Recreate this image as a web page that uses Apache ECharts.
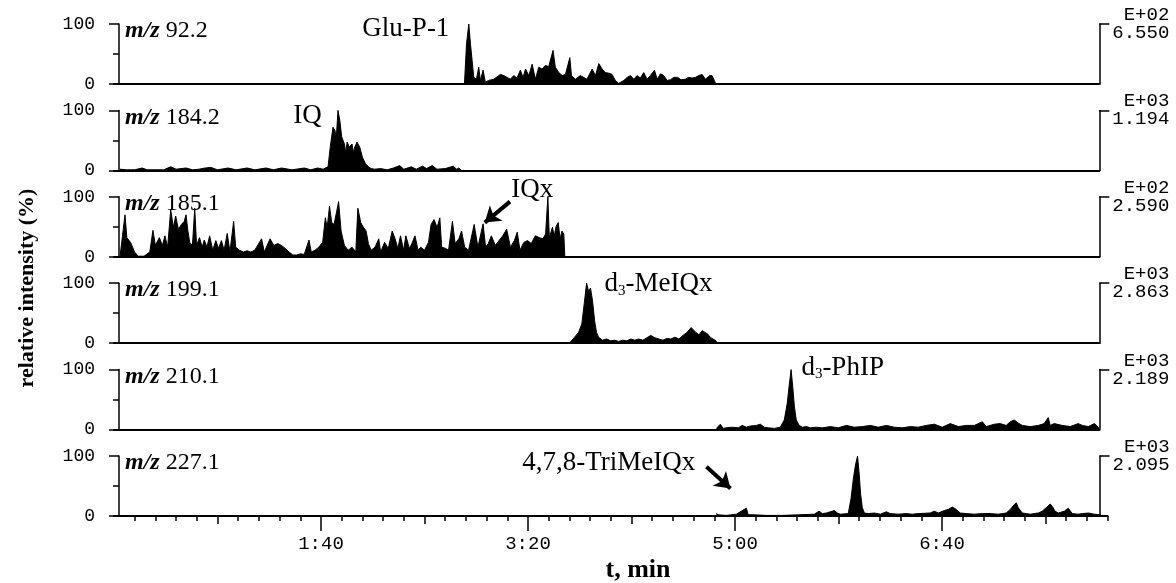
<!DOCTYPE html>
<html lang="en">
<head>
    <meta charset="UTF-8">
    <title>SIM chromatograms</title>
    <script src="https://cdn.jsdelivr.net/npm/echarts@6/dist/echarts.min.js"></script>
    <style>html, body { margin: 0; padding: 0; background: #fff; }</style>
</head>
<body>
    <div id="main" style="width: 1176px; height: 583px"></div>
    <script>
        // panel captions and full-scale values shown on the right
        var mzLabels = ['92.2', '184.2', '185.1', '199.1', '210.1', '227.1'];
        var scaleExp = ['E+02', 'E+03', 'E+02', 'E+03', 'E+03', 'E+03'];
        var scaleMax = ['6.550', '1.194', '2.590', '2.863', '2.189', '2.095'];

        // traces: [time (s), relative intensity (%)]
        var mz92 = [[169.3,0],[170.3,67],[171.4,100],[172.2,67],[173.0,39],[173.8,11],[175.1,8],[176.2,28],[177.0,6],[178.3,23],[179.4,3],[181.0,6],[183.5,8],[185.1,12],[186.7,16],[188.3,14],[189.9,11],[191.5,8],[193.1,14],[194.7,10],[196.3,23],[197.6,11],[198.8,25],[200.4,14],[202.0,33],[203.6,8],[205.2,28],[206.8,25],[208.4,31],[210.0,29],[212.1,56],[213.2,28],[214.9,19],[216.5,14],[218.1,16],[220.2,44],[221.0,14],[222.9,8],[225.3,14],[228.5,8],[231.0,25],[232.6,14],[234.2,34],[235.8,25],[237.4,19],[239.0,18],[240.6,16],[242.2,6],[243.8,1],[246.3,6],[247.9,11],[249.5,14],[251.1,8],[252.7,14],[254.3,10],[255.9,19],[257.5,8],[259.1,14],[261.1,23],[262.4,8],[264.0,17],[265.6,14],[267.2,6],[268.8,7],[270.4,11],[272.3,11],[273.9,7],[276.0,8],[277.6,11],[279.3,10],[280.9,11],[282.5,14],[284.1,16],[285.7,8],[287.8,14],[288.9,14],[290.0,6],[290.7,0]];
        var mz184 = [[2.9,2],[6,1],[10,1],[13.6,4],[16,1],[20,1],[24,1],[27.4,6],[30,2],[34.8,4],[38,1],[41,2],[44.0,4],[46.8,5],[50,1],[55.1,4],[59,1],[64.3,4],[68,1],[73.5,4],[77,1],[80.9,4],[86,1],[92.0,4],[95,1],[98.4,4],[101,2],[103.4,6],[104.5,40],[105.8,72],[106.7,67],[107.4,55],[108.2,100],[109.1,83],[110.0,56],[111.3,44],[112.0,30],[112.6,47],[113.7,39],[115.0,44],[115.6,30],[116.3,39],[117.4,47],[118.7,39],[120.0,22],[121.5,11],[123.0,6],[124.2,3],[126,2],[128.8,3],[132,1],[135,4],[138.0,8],[140,2],[143.6,6],[146,2],[149.1,7],[151,3],[153.7,8],[156,2],[160,3],[163.9,7],[165.5,2],[166.6,4],[167.9,0]];
        var mz185 = [[2.9,0],[5.3,70],[6.2,32],[7.1,30],[8.0,24],[9.0,16],[9.9,8],[11.7,1],[14.5,1],[17.3,8],[18.8,44],[20.0,19],[21.9,32],[23.4,19],[24.6,35],[25.9,16],[27.4,78],[28.7,49],[29.8,68],[31.1,46],[32.6,54],[33.9,59],[34.8,70],[35.7,43],[36.6,24],[37.9,19],[39.0,81],[39.9,19],[41.3,32],[42.6,16],[43.6,28],[44.9,16],[46.2,35],[47.7,11],[49.2,27],[50.5,14],[51.9,27],[53.2,11],[54.7,39],[56.0,8],[57.8,59],[58.8,16],[60.6,11],[62.5,8],[64.3,10],[66.1,8],[68.0,11],[71.3,30],[72.6,8],[75.4,30],[77.2,19],[79.1,22],[80.9,19],[82.7,14],[84.6,8],[86.4,3],[88.3,3],[90.1,5],[91.9,4],[94.2,28],[95.3,8],[97.1,11],[98.9,16],[100.8,24],[102.1,65],[103.0,49],[104.1,84],[105.2,57],[106.3,54],[107.6,76],[108.5,92],[109.7,43],[111.3,19],[113.1,11],[115.0,16],[116.8,8],[117.8,81],[119.2,57],[120.5,49],[121.8,43],[122.9,22],[124.2,11],[126.1,16],[127.9,30],[128.8,8],[130.7,24],[132.5,14],[134.4,43],[135.8,30],[137.1,14],[138.4,35],[139.9,11],[141.0,35],[142.7,14],[143.9,22],[145.4,35],[146.9,11],[148.2,16],[150.0,11],[151.9,24],[153.2,54],[154.6,62],[156.1,49],[157.4,65],[158.3,16],[160.2,14],[161.6,11],[163.5,59],[164.8,22],[166.6,30],[167.9,43],[169.4,16],[171.3,11],[174.0,54],[175.8,16],[178.3,55],[179.5,16],[180.8,22],[182.3,35],[184.2,19],[186.0,27],[187.8,35],[189.7,46],[191.5,16],[193.4,27],[194.8,41],[196.1,11],[198.0,24],[199.8,27],[201.6,22],[203.5,35],[205.4,32],[206.3,35],[207.2,30],[208.5,38],[209.6,100],[210.3,32],[211.8,49],[212.7,35],[213.6,51],[214.6,57],[215.5,30],[216.4,43],[217.3,38],[217.8,0]];
        var mz199 = [[220.5,2],[222.5,10],[224.4,18],[226.0,32],[227.3,70],[228.3,100],[229.3,86],[230.2,92],[231.2,70],[232.2,37],[233.1,18],[234.1,10],[236.0,5],[238.0,7],[239.9,4],[241.9,5],[243.8,3],[245.7,5],[247.7,4],[249.6,7],[251.6,5],[253.5,7],[255.5,5],[257.4,9],[259.3,13],[261.3,9],[263.2,7],[265.2,5],[267.1,8],[269.0,7],[271.0,10],[272.9,7],[274.9,13],[276.8,18],[278.8,26],[279.7,29],[281.1,18],[282.6,14],[284.2,21],[285.5,18],[286.9,15],[288.0,10],[289.4,7],[290.8,4],[291.4,0]];
        var mz210 = [[291.0,2],[292.9,9],[294.3,2],[295.8,3],[298.7,4],[301.6,3],[303.5,7],[305.5,4],[307.4,6],[310.3,7],[312.2,9],[314.2,4],[316.1,3],[319.0,2],[321.9,4],[323.8,16],[325.2,43],[326.1,71],[327.1,100],[327.9,71],[328.7,38],[329.6,16],[331.0,7],[332.5,4],[334.5,5],[336.4,3],[339.3,4],[342.2,3],[346.0,5],[349.9,3],[353.8,7],[357.6,4],[361.5,5],[365.4,7],[369.2,4],[373.1,7],[377.0,4],[380.8,3],[384.7,5],[388.5,4],[392.4,7],[396.3,9],[400.1,4],[404.0,10],[407.9,5],[411.7,7],[415.6,7],[419.5,13],[421.4,5],[425.3,9],[428.1,10],[431.0,7],[433.0,13],[434.9,16],[436.8,11],[438.8,7],[442.6,5],[446.5,7],[449.4,10],[451.3,20],[452.3,7],[454.2,10],[458.1,7],[461.9,5],[465.8,10],[467.8,7],[470.7,5],[473.6,10],[475.5,4],[476,0]];
        var mz227 = [[291.0,4],[292.0,2],[295.8,1],[300.6,3],[305.5,13],[306.4,2],[309.3,2],[315.1,1],[322.9,1],[330.6,2],[338.3,3],[340.6,8],[342.2,4],[344.1,5],[346.0,7],[348.0,9],[349.5,5],[350.9,3],[354.7,4],[356.1,30],[357.2,63],[358.2,85],[359.2,100],[359.9,74],[360.7,36],[361.5,14],[362.5,5],[364.4,4],[367.3,5],[370.2,3],[373.1,7],[375.0,4],[378.9,3],[382.7,4],[385.6,3],[388.5,4],[394.3,5],[396.3,8],[398.2,5],[401.1,9],[403.0,11],[405.0,15],[406.9,11],[408.8,5],[411.7,4],[415.6,3],[419.5,4],[423.3,4],[427.2,3],[431.0,5],[433.0,11],[434.9,19],[435.9,22],[436.8,14],[438.8,5],[442.6,3],[446.5,5],[448.4,8],[450.4,14],[452.3,20],[453.3,16],[454.6,8],[456.2,5],[459.1,8],[461.0,13],[462.9,4],[465.8,3],[467.8,4],[470.7,5],[473.6,3],[476.5,2],[477.4,0]];

        // compound names placed at [time, intensity] of their panel
        var peakLabels = [
            {panel: 0, t: 141, v: 92, text: 'Glu-P-1'},
            {panel: 1, t: 93.5, v: 90, text: 'IQ'},
            {panel: 2, t: 202, v: 100, dy: -7, text: 'IQx'},
            {panel: 3, t: 263, v: 98, text: '{a|d}{s|3}{a|-MeIQx}'},
            {panel: 4, t: 352, v: 100, dy: -2, text: '{a|d}{s|3}{a|-PhIP}'},
            {panel: 5, t: 239, v: 88, text: '4,7,8-TriMeIQx'}
        ];
        var arrows = [
            {panel: 2, from: [191.3, 92], to: [179.1, 57]},
            {panel: 5, from: [286.2, 82], to: [297.8, 46]}
        ];
        // time axis marks (s)
        var labelTimes = [100, 200, 300, 400];
        var midTimes = [50, 150, 250, 350, 450];
        var minorTimes = [];
        for (var s = 10; s <= 480; s += 10) minorTimes.push(s);

        var traces = [mz92, mz184, mz185, mz199, mz210, mz227];
        var serif = '"Liberation Serif", "Times New Roman", serif';
        var mono = '"Liberation Mono", "Courier New", monospace';
        var pxPerSec = 2.07;
        var top0 = 24, step = 86.4, panelH = 60;

        function fmtTime(v) {
            var m = Math.floor(v / 60), sec = v % 60;
            return m + ':' + (sec < 10 ? '0' : '') + sec;
        }

        var chart = echarts.init(document.getElementById('main'));
        var grids = [], xAxes = [], yAxes = [], series = [], titles = [];
        var black = {color: '#000', width: 1.5};

        traces.forEach(function (data, i) {
            var last = i === traces.length - 1;
            var tMax = last ? 480 : 476;
            var top = top0 + step * i;
            grids.push({left: 114, top: top, height: panelH, width: tMax * pxPerSec});
            xAxes.push({
                gridIndex: i, type: 'value', min: 0, max: tMax,
                axisLine: {onZero: false, lineStyle: {color: '#000', width: 2}},
                axisTick: {show: false}, axisLabel: {show: false}, splitLine: {show: false}
            });
            yAxes.push({
                gridIndex: i, type: 'value', min: 0, max: 100, interval: 100, offset: -5,
                axisLine: {show: true, onZero: false, lineStyle: black},
                axisTick: {show: true, length: 10, lineStyle: black},
                minorTick: {show: true, splitNumber: 2, length: 6, lineStyle: black},
                axisLabel: {color: '#000', fontFamily: mono, fontSize: 18, margin: 24, padding: [4, 0, 0, 0]},
                splitLine: {show: false}
            });
            yAxes.push({
                gridIndex: i, type: 'value', position: 'right', min: 0, max: 100, interval: 100,
                offset: last ? -8 : 0,
                axisLine: {show: true, onZero: false, lineStyle: black},
                axisTick: {show: true, length: 10, customValues: [100], lineStyle: black},
                axisLabel: {
                    customValues: [100], color: '#000', fontFamily: mono, fontSize: 19, lineHeight: 18,
                    margin: 13, padding: [12, 0, 0, 0],
                    formatter: function () { return ' ' + scaleExp[i] + '\n' + scaleMax[i]; }
                },
                splitLine: {show: false}
            });
            titles.push({
                left: 125, top: top - 5, padding: 0,
                text: '{i|m/z} ' + mzLabels[i],
                textStyle: {
                    fontFamily: serif, fontSize: 24, fontWeight: 'normal', color: '#000',
                    rich: {i: {fontFamily: serif, fontSize: 24, fontStyle: 'italic', fontWeight: 'bold', color: '#000'}}
                }
            });

            var marks = peakLabels.filter(function (p) { return p.panel === i; }).map(function (p) {
                return {coord: [p.t, p.v], label: {formatter: p.text, offset: [0, p.dy || 0]}};
            });
            var lines = arrows.filter(function (a) { return a.panel === i; }).map(function (a) {
                return [{coord: a.from}, {coord: a.to}];
            });
            series.push({
                type: 'line', xAxisIndex: i, yAxisIndex: 2 * i, data: data,
                showSymbol: false, symbol: 'none', animation: false, silent: true,
                lineStyle: {color: '#000', width: 1},
                areaStyle: {color: '#000', opacity: 1},
                markPoint: {
                    symbol: 'circle', symbolSize: 0, silent: true, animation: false,
                    label: {
                        show: true, position: 'inside', color: '#000', fontFamily: serif, fontSize: 27,
                        rich: {
                            a: {fontFamily: serif, fontSize: 27, color: '#000'},
                            s: {fontFamily: serif, fontSize: 15, color: '#000', padding: [13, 0, 0, 0]}
                        }
                    },
                    data: marks
                },
                markLine: {
                    symbol: ['none', 'arrow'], symbolSize: 15, silent: true, animation: false,
                    label: {show: false},
                    lineStyle: {color: '#000', width: 4, type: 'solid'},
                    data: lines
                }
            });
        });

        // time axis of the bottom panel: 10 s, 50 s and labelled 100 s marks
        var bottom = traces.length - 1;
        [[minorTimes, 5, false], [midTimes, 8, false], [labelTimes, 15, true]].forEach(function (t) {
            xAxes.push({
                gridIndex: bottom, type: 'value', min: 0, max: 480, position: 'bottom',
                axisLine: {show: false, onZero: false},
                axisTick: {show: true, length: t[1], customValues: t[0], lineStyle: black},
                axisLabel: {
                    show: t[2], customValues: labelTimes, color: '#000', fontFamily: mono, fontSize: 19, margin: 18,
                    formatter: function (v) { return fmtTime(v); }
                },
                splitLine: {show: false}
            });
        });

        chart.setOption({
            animation: false,
            title: titles,
            grid: grids,
            xAxis: xAxes,
            yAxis: yAxes,
            series: series,
            graphic: [
                {
                    type: 'text', x: 27, y: 288, rotation: Math.PI / 2,
                    style: {text: 'relative intensity (%)', font: 'bold 22px ' + serif, fill: '#000',
                        align: 'center', verticalAlign: 'middle', textAlign: 'center', textVerticalAlign: 'middle'}
                },
                {
                    type: 'text', x: 638, y: 570,
                    style: {text: 't, min', font: 'bold 26px ' + serif, fill: '#000',
                        align: 'center', verticalAlign: 'middle', textAlign: 'center', textVerticalAlign: 'middle'}
                }
            ]
        });
    </script>
</body>
</html>
